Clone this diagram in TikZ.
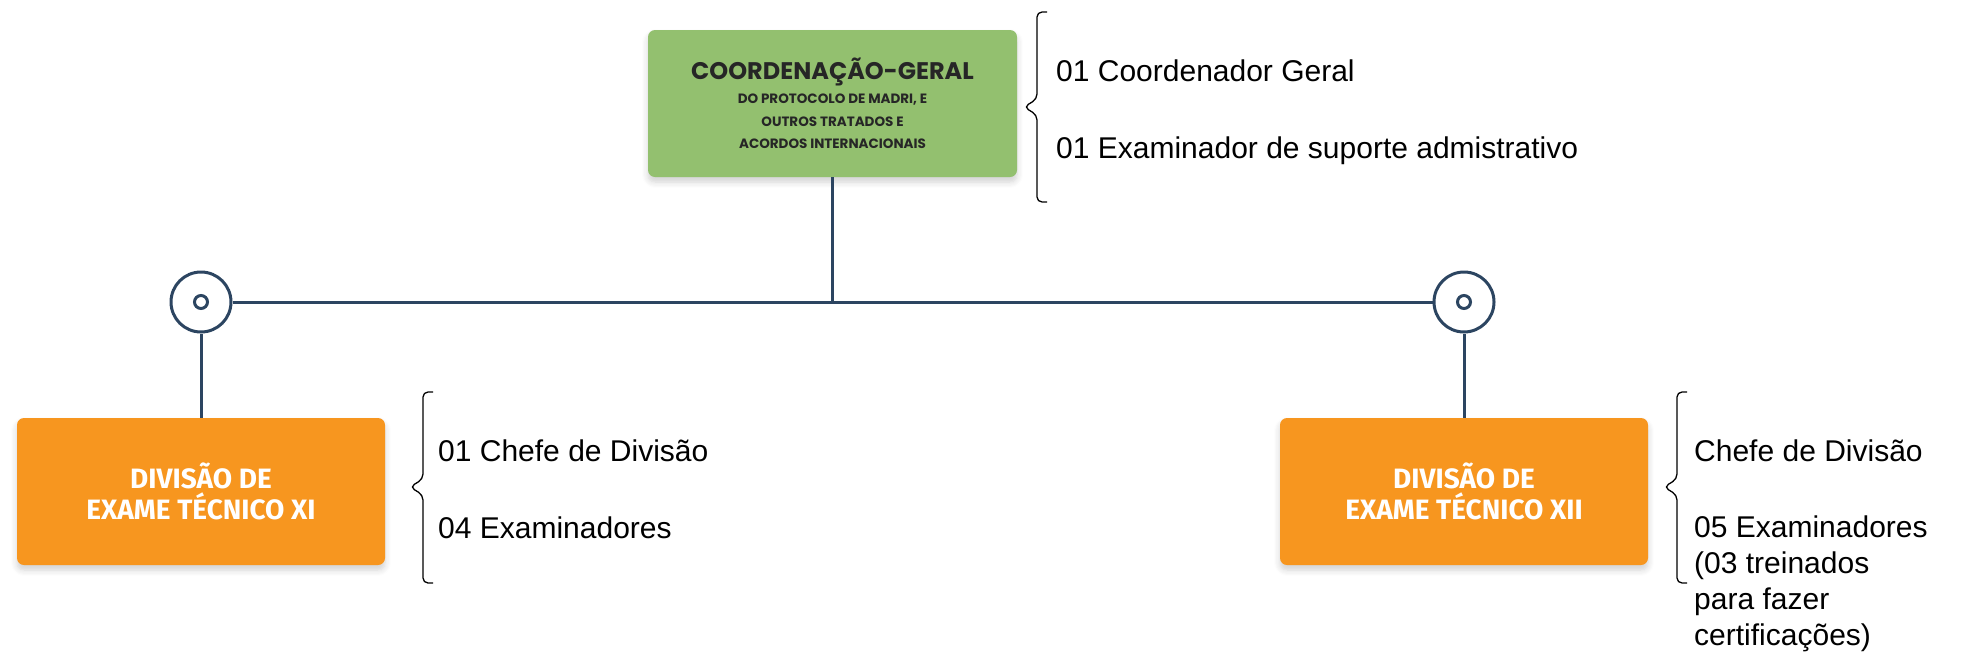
\documentclass[tikz,border=0pt]{standalone}
\usepackage{fontspec}
\setmainfont{Liberation Sans}
\newfontfamily\titlefont{Poppins}
\newfontfamily\divfont{Fira Sans}
\usepackage{tikz}
\usetikzlibrary{positioning, shadows.blur}

\definecolor{coordgreen}{HTML}{93C06F}
\definecolor{divorange}{HTML}{F7961F}
\definecolor{linenavy}{HTML}{2C4561}

\begin{document}
\begin{tikzpicture}[x=1pt, y=-1pt,
    softshadow/.style={blur shadow={shadow blur steps=6, shadow xshift=0pt, shadow yshift=-5pt,
                       shadow blur radius=6pt, shadow opacity=18}},
    coordbox/.style={rectangle, rounded corners=7pt, fill=coordgreen, minimum width=369pt,
                     minimum height=147pt, align=center, text=black!85, softshadow,
                     font=\titlefont\bfseries\fontsize{13.5}{22.5}\selectfont},
    divbox/.style={rectangle, rounded corners=7pt, fill=divorange, minimum width=368pt,
                   minimum height=147pt, align=center, text=white, softshadow,
                   font=\divfont\bfseries\fontsize{28}{31}\selectfont},
    hub/.style={circle, draw=linenavy, line width=3pt, fill=white, minimum size=60pt, inner sep=0pt},
    link/.style={draw=linenavy, line width=3pt},
    brace/.style={draw=black, line width=1.3pt, rounded corners=5pt},
    staff/.style={anchor=base west, align=left, inner sep=0pt, font=\fontsize{30}{36}\selectfont}
]
    \useasboundingbox (0,0) rectangle (1964,659);

    % Coordination box
    \node[coordbox] (coord) at (832.5, 103.5) {%
        {\fontsize{24}{28}\selectfont COORDENAÇÃO-GERAL}\\[1.5pt]
        DO PROTOCOLO DE MADRI, E\\
        OUTROS TRATADOS E\\
        ACORDOS INTERNACIONAIS};

    % Division boxes
    \node[divbox] (divXI) at (201, 491.5) {DIVISÃO DE\\EXAME TÉCNICO XI};
    \node[divbox] (divXII) at (1464, 491.5) {DIVISÃO DE\\EXAME TÉCNICO XII};

    % Hubs
    \node[hub] (hubL) at (201, 302) {};
    \node[hub] (hubR) at (1464, 302) {};
    \draw[linenavy, line width=3pt] (hubL) circle (6.5pt);
    \draw[linenavy, line width=3pt] (hubR) circle (6.5pt);

    % Links
    \coordinate (junction) at (coord.south |- hubL);
    \draw[link] (hubL.east) -- (hubR.west);
    \draw[link] (coord.south) -- (junction);
    \draw[link] (hubL.south) -- (divXI.north);
    \draw[link] (hubR.south) -- (divXII.north);

    % Staff lists
    \draw[brace] (1047, 12) -- (1037, 12) -- (1037, 99) -- (1024, 107) -- (1037, 115) -- (1037, 202) -- (1047, 202);
    \node[staff] (coordHead) at (1056, 81) {01 Coordenador Geral};
    \node[staff] (coordSupport) at (1056, 158) {01 Examinador de suporte admistrativo};

    \draw[brace] (433, 392) -- (423, 392) -- (423, 479) -- (410, 487) -- (423, 495) -- (423, 583) -- (433, 583);
    \node[staff] (chefeXI) at (438, 461) {01 Chefe de Divisão};
    \node[staff] (examXI) at (438, 538) {04 Examinadores};

    \draw[brace] (1687, 392) -- (1677, 392) -- (1677, 479) -- (1664, 487) -- (1677, 495) -- (1677, 583) -- (1687, 583);
    \node[staff] (chefeXII) at (1694, 461) {Chefe de Divisão};
    \node[staff, anchor=west] (examXII) at (1694, 584) {05 Examinadores\\(03 treinados\\para fazer\\certificações)};

\end{tikzpicture}
\end{document}
